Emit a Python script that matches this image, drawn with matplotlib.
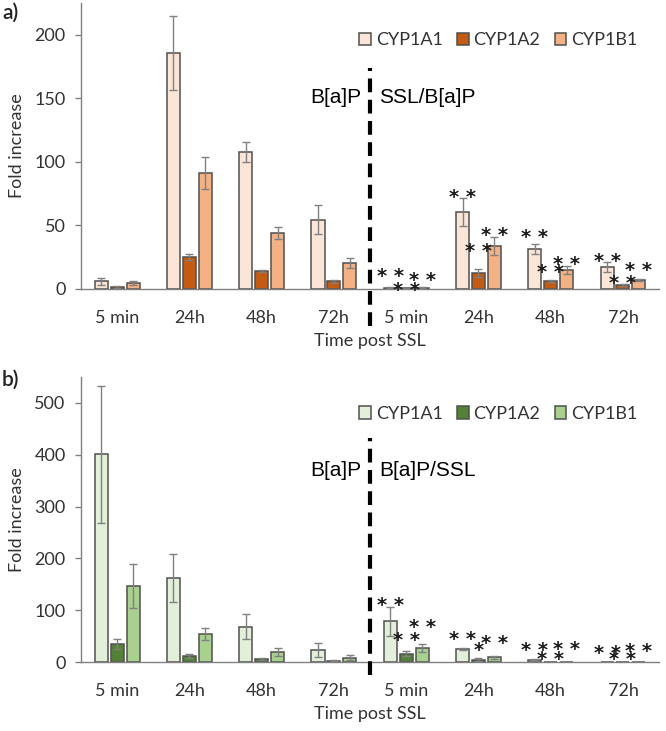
import numpy as np
import matplotlib
matplotlib.use('Agg')
import matplotlib.pyplot as plt
from matplotlib.lines import Line2D

plt.rcParams['font.family'] = ['Lato', 'DejaVu Sans']

times = ['5 min', '24h', '48h', '72h', '5 min', '24h', '48h', '72h']
genes = ['CYP1A1', 'CYP1A2', 'CYP1B1']

# panel a) B[a]P then SSL/B[a]P
a_1a1 = [6, 186, 108, 54.5, 1, 60.5, 31.5, 17]
a_1a2 = [1.5, 25, 14, 6, 0.5, 12.5, 6.3, 3]
a_1b1 = [4.5, 91, 44, 20.5, 1, 34, 15, 7]
a_1a1_err = [3, 29, 8, 11.5, 0.3, 11, 4, 4]
a_1a2_err = [0.5, 2.5, 1, 1, 0.2, 3, 1, 1]
a_1b1_err = [1.5, 12.5, 5, 4, 0.3, 7, 3, 0.5]

# panel b) B[a]P then B[a]P/SSL
b_1a1 = [401, 163, 68.5, 23.5, 79, 25, 5, 1]
b_1a2 = [35, 12, 6, 3, 16.5, 5, 1, 0.5]
b_1b1 = [147, 54.5, 20, 9, 27.5, 10, 1, 0.5]
b_1a1_err = [132, 46, 24, 14, 28, 2, 1, 0.3]
b_1a2_err = [10, 4, 2, 1, 5, 3, 0.3, 0.2]
b_1b1_err = [43, 11, 8, 4.5, 8, 3, 0.3, 0.2]

# significance marks for the four SSL groups (per gene)
a_marks = [['* *'] * 4, ['* *'] * 4, ['* *'] * 4]
b_marks = [['* *'] * 4, ['* *', '*', '* *', '* *'], ['* *'] * 4]

# lift of the marks above the error bar (pixels), per gene / group
a_lift = [[15, 5, 10, 5], [2, 22, 11, 4], [11, 5, 6, 13]]
b_lift = [[5, 13, 13, 12], [15, 12, 6, 6], [20, 16, 16, 14]]

a_colors = ['#FBE5D6', '#C55A11', '#F4B183']
b_colors = ['#E2F0D9', '#548235', '#A9D18E']

fig = plt.figure(figsize=(6.66, 7.31), dpi=100)
ax1 = fig.add_axes([0.1216, 0.6047, 0.868, 0.391])
ax2 = fig.add_axes([0.1216, 0.094, 0.868, 0.3906])

x = np.arange(len(times))
w = 0.18
off = 0.22


def panel(ax, vals, errs, colors, ymax, yticks, left_txt, right_txt, marks, lift, dash_lo, dash_hi):
    for i in range(3):
        ax.bar(x + (i - 1) * off, vals[i], w, color=colors[i], edgecolor='#505050',
               linewidth=1.1, label=genes[i], zorder=2)
        ax.errorbar(x + (i - 1) * off, vals[i], yerr=errs[i], fmt='none',
                    ecolor='#808080', elinewidth=1, capsize=2.8, capthick=1, zorder=3)
    for j in range(4, 8):
        for i in range(3):
            top = vals[i][j] + errs[i][j]
            ax.annotate(marks[i][j - 4], (x[j] + (i - 1) * off, top),
                        xytext=(0, (lift[i][j - 4] - 4) * 0.72), textcoords='offset points',
                        ha='center', va='center', fontsize=14, fontweight='bold',
                        family='DejaVu Sans', color='#1a1a1a', zorder=4)
    ax.set_xlim(-0.5, 7.5)
    ax.set_ylim(0, ymax)
    ax.set_yticks(yticks)
    ax.set_xticks(x)
    ax.set_xticklabels(times)
    ax.tick_params(axis='x', length=0, pad=15, labelsize=13, colors='#333333')
    ax.tick_params(axis='y', length=4, width=1, color='#808080', labelsize=13,
                   labelcolor='#333333', pad=7)
    for s in ['top', 'right']:
        ax.spines[s].set_visible(False)
    for s in ['left', 'bottom']:
        ax.spines[s].set_color('#808080')
        ax.spines[s].set_linewidth(1)
    ax.set_ylabel('Fold increase', fontsize=13, color='#333333', labelpad=7)
    ax.set_xlabel('Time post SSL', fontsize=13, color='#333333', labelpad=5)
    ax.add_line(Line2D([3.5, 3.5], [dash_lo, dash_hi], transform=ax.get_xaxis_transform(),
                       color='black', lw=3, linestyle=(0, (3.3, 1.8)), clip_on=False, zorder=5))
    ax.text(3.38, 0.67, left_txt, transform=ax.get_xaxis_transform(), ha='right',
            va='center', fontsize=15, family='Liberation Sans')
    ax.text(3.63, 0.67, right_txt, transform=ax.get_xaxis_transform(), ha='left',
            va='center', fontsize=15, family='Liberation Sans')
    ax.legend(loc='upper right', bbox_to_anchor=(0.99, 0.955), ncol=3, frameon=False,
              fontsize=13, handlelength=0.65, handleheight=0.65, handletextpad=0.25,
              columnspacing=0.8, labelcolor='#333333')


panel(ax1, [a_1a1, a_1a2, a_1b1], [a_1a1_err, a_1a2_err, a_1b1_err], a_colors, 225,
      [0, 50, 100, 150, 200], 'B[a]P', 'SSL/B[a]P', a_marks, a_lift, -0.13, 0.773)
panel(ax2, [b_1a1, b_1a2, b_1b1], [b_1a1_err, b_1a2_err, b_1b1_err], b_colors, 550,
      [0, 100, 200, 300, 400, 500], 'B[a]P', 'B[a]P/SSL', b_marks, b_lift, -0.045, 0.785)

fig.text(0.003, 0.975, 'a)', fontsize=15, color='#222222', fontweight='semibold')
fig.text(0.003, 0.472, 'b)', fontsize=15, color='#222222', fontweight='semibold')

fig.savefig('out.png', dpi=100)
